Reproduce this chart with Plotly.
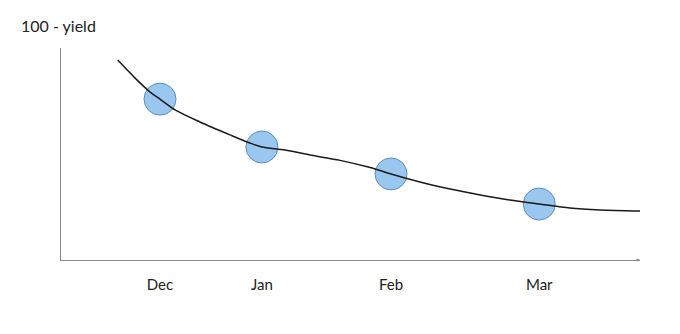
import plotly.graph_objects as go

# Data (arbitrary sketch units)
months = ["Dec", "Jan", "Feb", "Mar"]
month_x = [1.71, 3.47, 5.70, 8.26]
month_y = [7.59, 5.33, 4.06, 2.64]

curve_x = [0.98, 1.28, 1.54, 1.71, 1.97, 2.40, 2.92, 3.26, 3.47, 3.87, 4.30,
           4.82, 5.34, 5.70, 6.20, 6.72, 7.24, 7.75, 8.26, 8.79, 9.31, 10.0]
curve_y = [9.43, 8.58, 7.92, 7.59, 7.08, 6.51, 5.90, 5.52, 5.33, 5.19, 4.95,
           4.70, 4.36, 4.06, 3.68, 3.35, 3.07, 2.83, 2.64, 2.45, 2.36, 2.31]

y_title = "100 - yield"
FONT = "Lato, DejaVu Sans, sans-serif"

fig = go.Figure()
fig.add_trace(go.Scatter(
    x=month_x, y=month_y, mode="markers",
    marker=dict(size=32, color="#9ac7ef", line=dict(color="#5f8fb8", width=1)),
    hoverinfo="skip", showlegend=False))
fig.add_trace(go.Scatter(
    x=curve_x, y=curve_y, mode="lines",
    line=dict(color="#1a1a1a", width=1.5, shape="spline", smoothing=0.8),
    hoverinfo="skip", showlegend=False))

fig.update_layout(
    width=680, height=334,
    margin=dict(l=61, r=40, t=48, b=74),
    paper_bgcolor="white", plot_bgcolor="white",
    font=dict(family=FONT, size=15, color="#222"),
    xaxis=dict(range=[0, 10], showgrid=False, zeroline=False,
               showline=True, linecolor="#8a8a8a", linewidth=1.2,
               tickvals=month_x, ticktext=months, ticks="",
               ticklabelstandoff=11, fixedrange=True),
    yaxis=dict(range=[0, 10], showgrid=False, zeroline=False,
               showline=True, linecolor="#8a8a8a", linewidth=1.2,
               showticklabels=False, ticks="", fixedrange=True),
    annotations=[
        dict(text=y_title, xref="paper", yref="paper", x=-0.072, y=1.104,
             xanchor="left", yanchor="middle", showarrow=False,
             font=dict(family=FONT, size=16, color="#222")),
        dict(x=1.0, y=0, xref="paper", yref="paper", ax=-6, ay=0,
             showarrow=True, arrowhead=2, arrowsize=0.6, arrowwidth=1,
             arrowcolor="#8a8a8a", text=""),
    ],
)

fig.write_html("out.html")
